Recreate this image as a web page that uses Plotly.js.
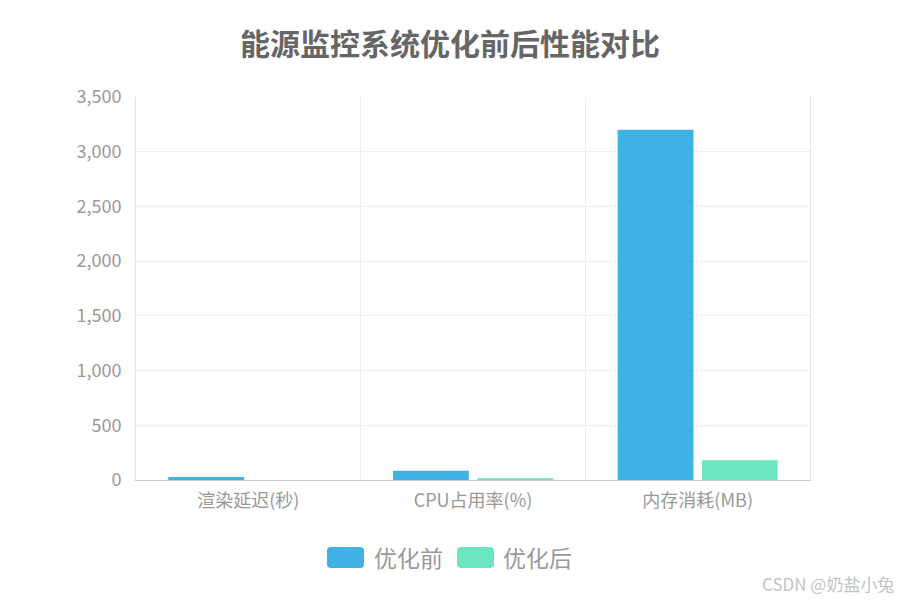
<!DOCTYPE html>
<html>
<head>
<meta charset="utf-8">
<script src="https://cdn.plot.ly/plotly-3.0.1.min.js"></script>
<style>
  body { margin: 0; background: #fff; }
  #grafico { width: 900px; height: 600px; }
</style>
</head>
<body>
<div id="grafico"></div>
<script>
// datos
var categorias = ['渲染延迟(秒)', 'CPU占用率(%)', '内存消耗(MB)'];
var antes = [28, 85, 3200];
var despues = [0.5, 16, 180];
var nombres = ['优化前', '优化后'];
var colores = ['#3fb1e3', '#6be6c1'];
var marcas = [0, 500, 1000, 1500, 2000, 2500, 3000, 3500];

var fuente = '"Noto Sans CJK SC", "Noto Sans", sans-serif';

var trace1 = {
  x: categorias,
  y: antes,
  name: nombres[0],
  type: 'bar',
  marker: { color: colores[0], line: { width: 0 } },
  hoverinfo: 'none'
};
var trace2 = {
  x: categorias,
  y: despues,
  name: nombres[1],
  type: 'bar',
  marker: { color: colores[1], line: { width: 0 } },
  hoverinfo: 'none'
};

// px -> paper (area de trazado 136..810 x 97..480)
function px(v) { return (v - 136) / 674; }
function py(v) { return (480 - v) / 383; }

// muestra de leyenda con esquinas redondeadas
function muestra(x0, x1, y0, y1, color) {
  var rx = 4 / 674, ry = 4 / 383;
  var a = px(x0), b = px(x1), top = py(y0), bot = py(y1);
  var d = 'M' + (a + rx) + ',' + top +
    ' L' + (b - rx) + ',' + top +
    ' Q' + b + ',' + top + ' ' + b + ',' + (top - ry) +
    ' L' + b + ',' + (bot + ry) +
    ' Q' + b + ',' + bot + ' ' + (b - rx) + ',' + bot +
    ' L' + (a + rx) + ',' + bot +
    ' Q' + a + ',' + bot + ' ' + a + ',' + (bot + ry) +
    ' L' + a + ',' + (top - ry) +
    ' Q' + a + ',' + top + ' ' + (a + rx) + ',' + top + ' Z';
  return { type: 'path', xref: 'paper', yref: 'paper', path: d,
    fillcolor: color, line: { width: 0 } };
}

var layout = {
  width: 900,
  height: 600,
  margin: { l: 136, r: 90, t: 97, b: 120 },
  paper_bgcolor: '#ffffff',
  plot_bgcolor: '#ffffff',
  font: { family: fuente, color: '#999999', size: 18 },
  title: {
    text: '<b>能源监控系统优化前后性能对比</b>',
    font: { family: fuente, size: 30, color: '#666666' },
    x: 0.5, xanchor: 'center',
    y: 1 - 44 / 600, yanchor: 'middle'
  },
  showlegend: false,
  bargap: 0.25,
  bargroupgap: 0.1,
  xaxis: {
    type: 'category',
    tickson: 'boundaries',
    showgrid: true,
    gridcolor: '#eeeeee',
    showline: true,
    linecolor: '#cccccc',
    linewidth: 1,
    ticks: '',
    ticklabelstandoff: 4,
    tickfont: { size: 18, color: '#999999' },
    range: [-0.5, 2.5],
    fixedrange: true
  },
  yaxis: {
    range: [0, 3500],
    tickvals: marcas,
    tickformat: ',d',
    showgrid: true,
    gridcolor: '#eeeeee',
    zeroline: false,
    showline: true,
    linecolor: '#e4e4e4',
    mirror: true,
    ticks: '',
    ticklabelstandoff: 10,
    tickfont: { size: 18, color: '#999999' },
    fixedrange: true
  },
  shapes: [
    muestra(327, 364, 547, 568, colores[0]),
    muestra(457, 494, 547, 568, colores[1])
  ],
  annotations: [
    { xref: 'paper', yref: 'paper', x: px(372), y: py(557), xanchor: 'left', yanchor: 'middle',
      text: nombres[0], showarrow: false, font: { size: 23, color: '#999999' } },
    { xref: 'paper', yref: 'paper', x: px(501), y: py(557), xanchor: 'left', yanchor: 'middle',
      text: nombres[1], showarrow: false, font: { size: 23, color: '#999999' } },
    { xref: 'paper', yref: 'paper', x: px(896), y: py(583), xanchor: 'right', yanchor: 'middle',
      text: 'CSDN @奶盐小兔', showarrow: false, font: { size: 17, color: '#c4c4c4' } }
  ]
};

Plotly.newPlot('grafico', [trace1, trace2], layout, { displayModeBar: false, staticPlot: true });
</script>
</body>
</html>
